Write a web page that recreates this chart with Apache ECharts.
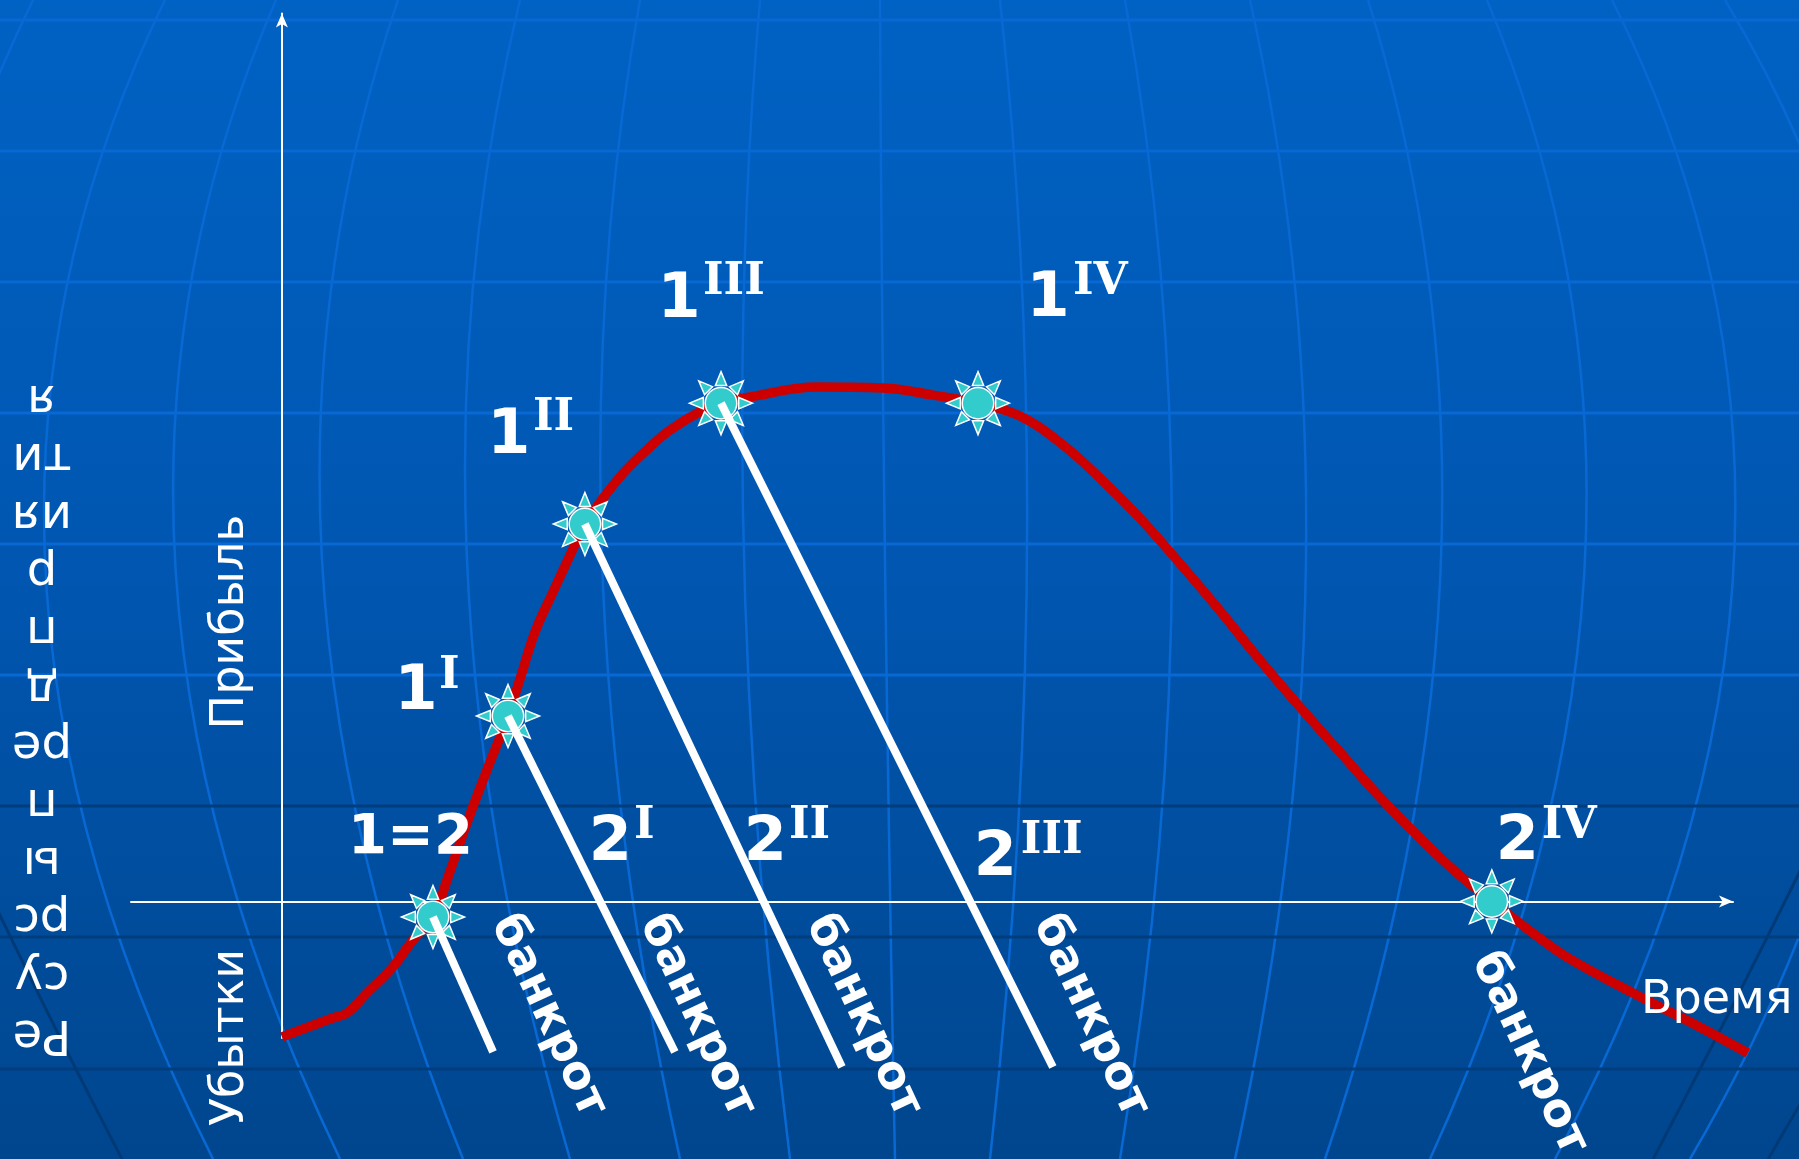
<!DOCTYPE html>
<html lang="ru">
<head>
<meta charset="utf-8">
<title>Ресурсы предприятия</title>
<script src="https://cdn.jsdelivr.net/npm/echarts@6/dist/echarts.min.js"></script>
<style>
  html, body { margin: 0; padding: 0; background: #0056b0; }
  #chart { width: 1799px; height: 1159px; }
</style>
</head>
<body>
<div id="chart"></div>
<script>
// ---- Data -----------------------------------------------------------------
// Resources of the enterprise over time (above zero: profit, below: losses)
const curveTime = [0, 3.51, 4.48, 5.86, 7.65, 9.03, 10.41, 11.38, 12.75, 14.13, 15.58, 16.47, 17.44, 18.68,
  19.99, 20.88, 23.23, 25.36, 26.74, 29.02, 30.26, 32.26, 36.87, 41.42, 44.87, 47.97, 50.86, 53.75, 56.37,
  59.12, 61.68, 64.43, 67.39, 70.15, 72.9, 75.66, 78.42, 80.9, 83.38, 86.2, 88.54, 93.09, 97.7, 101.02];
const curveValue = [-9.92, -8.53, -8.17, -6.7, -4.79, -2.82, -1.14, 1.58, 5.75, 9.62, 13.57, 16.5, 19.72, 22.65,
  25.65, 27.62, 30.99, 33.26, 34.5, 35.97, 36.47, 36.92, 37.65, 37.58, 37.06, 36.47, 35.53, 33.48, 30.99,
  28.06, 24.99, 21.55, 17.67, 14.23, 10.94, 7.64, 4.64, 2.15, 0, -2.31, -4.07, -6.7, -9.19, -11.1];

// Key states on the curve
const stateMain = ['1=2', '1', '1', '1', '1', '2'];
const stateSup = ['', 'I', 'II', 'III', 'IV', 'IV'];
const stateTime = [10.41, 15.58, 20.88, 30.26, 47.97, 83.38];
const stateValue = [-1.14, 13.57, 27.62, 36.47, 36.47, 0];

// Bankruptcy paths leaving the first four states
const bankruptFrom = [0, 1, 2, 3];
const bankruptEndTime = [14.55, 27.08, 38.59, 53.13];
const bankruptEndValue = [-11.02, -11.02, -12.12, -12.12];
// Points where each path reaches zero resources
const crossMain = ['', '2', '2', '2'];
const crossSup = ['', 'I', 'II', 'III'];
const bankruptWord = 'банкрот';

// Axis ranges
const timeMin = -10.4, timeMax = 100;
const valueMin = -10, valueMax = 65;

// ---- Helpers ---------------------------------------------------------------
const W = 1799, H = 1159;
const SANS = '"DejaVu Sans", Verdana, sans-serif';
const SERIF = '"DejaVu Serif", serif';
const MID = 0.346;          // distance from alphabetic baseline to 'middle', in em
const NUM = 62, SUP = 44;   // sizes of the state numbers and their superscripts

function sunSymbol() {
  const c = 50, r = 25, rb = 28, rt = 50, hw = 9;
  let d = `M${c + r},${c}A${r},${r} 0 1,1 ${c - r},${c}A${r},${r} 0 1,1 ${c + r},${c}Z`;
  for (let k = 0; k < 8; k++) {
    const a = k * Math.PI / 4, ca = Math.cos(a), sa = Math.sin(a);
    const f = v => v.toFixed(2);
    d += `M${f(c + rt * ca)},${f(c + rt * sa)}` +
         `L${f(c + rb * ca - hw * sa)},${f(c + rb * sa + hw * ca)}` +
         `L${f(c + rb * ca + hw * sa)},${f(c + rb * sa - hw * ca)}Z`;
  }
  return 'path://' + d;
}

function textEl(x, y, text, o) {
  const font = `${o.weight || 'normal'} ${o.size}px ${o.family || SANS}`;
  const align = o.align || 'center';
  const style = {
    text, x: 0, y: 0, font, fill: '#ffffff',
    textAlign: align, textVerticalAlign: 'middle'
  };
  if (o.lineHeight) style.textLineHeight = o.lineHeight;
  return { type: 'text', x, y, rotation: o.rotation || 0, z: 20, silent: true, style };
}

// ---- Chart -----------------------------------------------------------------
const chart = echarts.init(document.getElementById('chart'), null, { renderer: 'canvas', width: W, height: H });

// Plot area of the drawn axes
const G = { left: 131, right: 66, top: 13.4, bottom: 121 };
// The resource curve runs a little past the arrow heads, so it sits on a hidden
// full-canvas grid whose axes share exactly the same scale as the visible ones.
const pxX = (W - G.left - G.right) / (timeMax - timeMin);
const pxY = (H - G.top - G.bottom) / (valueMax - valueMin);
const outerTimeMin = timeMin - G.left / pxX, outerTimeMax = timeMax + G.right / pxX;
const outerValueMin = valueMin - G.bottom / pxY, outerValueMax = valueMax + G.top / pxY;

const curveData = curveTime.map((t, i) => [t, curveValue[i]]);
const stateData = stateTime.map((t, i) => [t, stateValue[i]]);
const bankruptData = bankruptFrom.map((s, i) => ({
  coords: [[stateTime[s], stateValue[s]], [bankruptEndTime[i], bankruptEndValue[i]]]
}));
const crossings = bankruptFrom.map((s, i) => {
  const x1 = stateTime[s], y1 = stateValue[s], x2 = bankruptEndTime[i], y2 = bankruptEndValue[i];
  if (y1 <= 0) return [x1, y1];
  const k = y1 / (y1 - y2);
  return [x1 + k * (x2 - x1), 0];
});

const axisCommon = {
  type: 'value',
  axisLine: {
    show: true, onZero: true, symbol: ['none', 'arrow'], symbolSize: [9, 14],
    lineStyle: { color: '#ffffff', width: 2 }
  },
  axisTick: { show: false },
  axisLabel: { show: false },
  splitLine: { show: false }
};
const hiddenAxis = { type: 'value', show: false, gridIndex: 1, splitLine: { show: false } };

chart.setOption({
  animation: false,
  grid: [
    Object.assign({ containLabel: false, outerBoundsMode: 'none' }, G),
    { left: 0, right: 0, top: 0, bottom: 0, containLabel: false, outerBoundsMode: 'none' }
  ],
  xAxis: [
    Object.assign({}, axisCommon, { min: timeMin, max: timeMax }),
    Object.assign({}, hiddenAxis, { min: outerTimeMin, max: outerTimeMax })
  ],
  yAxis: [
    Object.assign({}, axisCommon, { min: valueMin, max: valueMax }),
    Object.assign({}, hiddenAxis, { min: outerValueMin, max: outerValueMax })
  ],
  series: [
    {
      type: 'line', xAxisIndex: 1, yAxisIndex: 1, data: curveData, smooth: 0.4, symbol: 'none',
      clip: false, silent: true, z: 2,
      lineStyle: { color: '#CC0000', width: 9.5 }
    },
    {
      type: 'scatter', data: stateData, symbol: sunSymbol(), symbolSize: 63, clip: false, silent: true, z: 3,
      itemStyle: { color: '#33CCCC', borderColor: '#ffffff', borderWidth: 1.5, opacity: 1 }
    },
    {
      type: 'lines', coordinateSystem: 'cartesian2d', data: bankruptData, clip: false, silent: true, z: 4,
      lineStyle: { color: '#ffffff', width: 8, opacity: 1, curveness: 0, cap: 'butt' }
    }
  ]
});

// ---- Backdrop: globe grid of the slide ---------------------------------------
const EQ = 560;
const latLight = [20, 151, 282, 413, 544, 675];
const latDark = [806, 937, 1069];
const meridians = [[33, -110, -10], [165, 45, 213], [276, 175, 340], [398, 322, 463], [520, 467, 570],
  [640, 602, 680], [760, 744, 790], [880, 885, 895], [1000, 1027, 990], [1125, 1172, 1120],
  [1250, 1306, 1235], [1368, 1441, 1325], [1487, 1585, 1430], [1612, 1734, 1555], [1725, 1880, 1690]];
const rims = [[-5, 905, 55, 1030, 125, 1165], [1825, 820, 1745, 985, 1650, 1165], [1815, 1080, 1790, 1120, 1765, 1165]];

const backdrop = [{
  type: 'rect', z: -100, silent: true, shape: { x: 0, y: 0, width: W, height: H },
  style: { fill: new echarts.graphic.LinearGradient(0, 0, 0, 1, [
    { offset: 0, color: '#0062C4' }, { offset: 0.5, color: '#0056B0' }, { offset: 1, color: '#00468E' }]) }
}];
meridians.forEach(([t, e, b]) => backdrop.push({
  type: 'bezierCurve', z: -95, silent: true,
  shape: { x1: t, y1: 0, x2: b, y2: H, cpx1: 2 * e - (t + b) / 2, cpy1: 2 * EQ - H / 2 },
  style: { stroke: '#0869D4', lineWidth: 2.5, fill: 'none' }
}));
latLight.forEach(y => backdrop.push({
  type: 'line', z: -94, silent: true, shape: { x1: 0, y1: y, x2: W, y2: y },
  style: { stroke: '#0869D4', lineWidth: 3 }
}));
latDark.forEach(y => backdrop.push({
  type: 'line', z: -93, silent: true, shape: { x1: 0, y1: y, x2: W, y2: y },
  style: { stroke: '#003D7C', lineWidth: 3 }
}));
rims.forEach(([x1, y1, cx, cy, x2, y2]) => backdrop.push({
  type: 'bezierCurve', z: -92, silent: true,
  shape: { x1, y1, x2, y2, cpx1: cx, cpy1: cy },
  style: { stroke: '#003A76', lineWidth: 3, fill: 'none' }
}));

// ---- Text ------------------------------------------------------------------
const px = p => chart.convertToPixel({ gridIndex: 0 }, p);
const origin = px([0, 0]);
const axisEnd = px([timeMax, 0]);
const statePx = stateData.map(px);
const crossPx = crossings.map(px);

// offsets from the anchor point: number centre/baseline (dx, dy), superscript left/baseline (sx, sy)
const stateLayout = [
  { dx: -22.5, dy: -59, size: 56 },
  { dx: -92, dy: -2, sx: -69, sy: -24 },
  { dx: -76, dy: -66, sx: -52, sy: -90 },
  { dx: -42, dy: -81, sx: -18, sy: -105 },
  { dx: 70, dy: -82, sx: 95, sy: -105 },
  { dx: 25.5, dy: -37, sx: 50, sy: -60 }
];
const crossLayout = [null,
  { dx: 10.3, dy: -36.4, sx: 33.8, sy: -59.4 },
  { dx: 1.9, dy: -36.4, sx: 25.4, sy: -59.4 },
  { dx: 25.2, dy: -21.4, sx: 50.7, sy: -44.4 }
];
const wordAnchors = [crossPx[0], crossPx[1], crossPx[2], crossPx[3], statePx[5]];
const wordOffsets = [[115, 99], [96.8, 114.6], [99.4, 114.6], [120.2, 114.6], [37, 152]];

const texts = [];
function numberLabel(a, L, main, sup) {
  const size = L.size || NUM;
  texts.push(textEl(a[0] + L.dx, a[1] + L.dy - MID * size, main, { size, weight: 'bold' }));
  if (sup) {
    texts.push(textEl(a[0] + L.sx, a[1] + L.sy - MID * SUP, sup,
      { size: SUP, weight: 'bold', family: SERIF, align: 'left' }));
  }
}
stateMain.forEach((m, i) => numberLabel(statePx[i], stateLayout[i], m, stateSup[i]));
crossMain.forEach((m, i) => { if (m) numberLabel(crossPx[i], crossLayout[i], m, crossSup[i]); });

wordAnchors.forEach((a, i) => texts.push(textEl(a[0] + wordOffsets[i][0], a[1] + wordOffsets[i][1], bankruptWord,
  { size: 46, weight: 'bold', rotation: -65 * Math.PI / 180 })));

texts.push(textEl(axisEnd[0] - 92, axisEnd[1] + 99.6, 'Время', { size: 46, align: 'left' }));
texts.push(textEl(origin[0] - 51, origin[1] - 279.4, 'Прибыль', { size: 46, rotation: Math.PI / 2 }));
texts.push(textEl(origin[0] - 51, origin[1] + 136.1, 'Убытки', { size: 46, rotation: Math.PI / 2 }));
texts.push(textEl(origin[0] - 240, origin[1] - 185.4,
  'Ре\nсу\nрс\nы\nп\nре\nд\nп\nр\nия\nти\nя', { size: 48, lineHeight: 57.7, rotation: Math.PI }));

chart.setOption({ graphic: { elements: backdrop.concat(texts) } });
</script>
</body>
</html>
